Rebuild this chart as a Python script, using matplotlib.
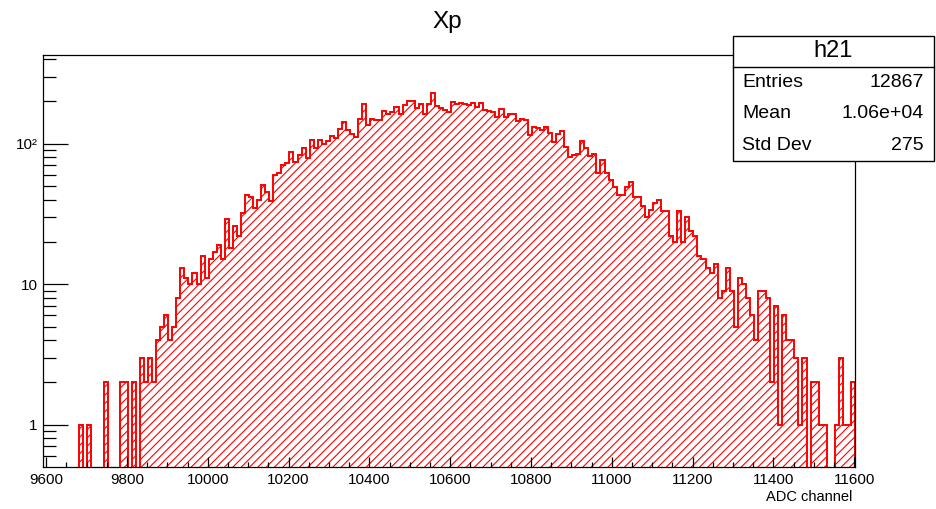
import numpy as np
import matplotlib
matplotlib.use("Agg")
import matplotlib.pyplot as plt
from matplotlib.patches import Rectangle
from matplotlib.lines import Line2D

plt.rcParams["font.family"] = ["Liberation Sans", "DejaVu Sans"]
plt.rcParams["hatch.color"] = "red"
plt.rcParams["hatch.linewidth"] = 0.8

# histogram h21 : 201 bins of 10 ADC channels starting at 9592
bin_lo = 9592
bin_width = 10
counts = [
    0, 0, 0, 0, 0, 0, 0, 0, 0, 1,
    0, 1, 0, 0, 0, 2, 0, 0, 0, 2,
    2, 0, 2, 0, 3, 2, 3, 2, 4, 5,
    6, 4, 5, 8, 13, 11, 10, 12, 10, 16,
    11, 15, 17, 19, 15, 29, 18, 26, 22, 32,
    43, 42, 35, 40, 51, 45, 39, 60, 62, 70,
    73, 88, 74, 83, 93, 79, 106, 93, 107, 100,
    105, 113, 110, 128, 143, 126, 117, 112, 149, 191,
    136, 151, 147, 147, 171, 164, 169, 183, 164, 188,
    202, 202, 181, 191, 164, 191, 228, 185, 181, 173,
    169, 199, 191, 195, 193, 190, 195, 183, 195, 175,
    171, 168, 155, 178, 155, 164, 164, 145, 151, 148,
    115, 132, 130, 125, 132, 120, 103, 118, 124, 95,
    80, 83, 84, 105, 93, 82, 84, 62, 77, 62,
    55, 49, 43, 43, 49, 53, 42, 42, 36, 30,
    34, 38, 40, 33, 33, 22, 20, 33, 20, 30,
    24, 22, 16, 15, 13, 12, 14, 8, 9, 13,
    9, 5, 11, 10, 8, 6, 4, 9, 9, 8,
    2, 7, 1, 6, 4, 4, 3, 1, 3, 0,
    2, 2, 1, 1, 0, 0, 1, 3, 1, 1,
    2,
]

stat_names = ["Entries", "Mean", "Std Dev"]
stat_values = ["12867", "1.06e+04", "275"]

W, H = 936, 509
def fx(x):
    return x / W
def fy(y):
    return 1 - y / H

counts = np.array(counts, dtype=float)
edges = bin_lo + bin_width * np.arange(len(counts) + 1)
shown = np.where(counts > 0, counts, 0.05)

fig = plt.figure(figsize=(W / 100, H / 100), dpi=100)
ax = fig.add_axes([fx(43), fy(467), (855 - 43) / W, (467 - 55) / H])

ax.stairs(shown, edges, baseline=0.05, fill=True, facecolor="none",
          edgecolor="red", hatch="////", linewidth=0)
ax.stairs(shown, edges, baseline=0.05, fill=False, color="red", linewidth=1.4)

ax.set_yscale("log")
ax.set_xlim(edges[0], edges[-1])
ax.set_ylim(0.5, 428)

ax.set_xticks(np.arange(9600, 11601, 200))
ax.set_xticks(np.arange(9600, 11601, 50), minor=True)
ax.set_yticks([1, 10, 100])
ax.set_yticklabels(["1", "10", "10\u00b2"])
ymin = [0.6, 0.7, 0.8, 0.9] + list(range(2, 10)) + list(range(20, 100, 10)) + [200, 300, 400]
ax.set_yticks(ymin, minor=True)
ax.yaxis.set_minor_formatter(plt.NullFormatter())

ax.tick_params(axis="both", which="both", direction="in", labelsize=11, width=0.9)
ax.tick_params(axis="x", which="major", length=7.5, pad=4)
ax.tick_params(axis="x", which="minor", length=3.8)
ax.tick_params(axis="y", which="major", length=18, pad=4)
ax.tick_params(axis="y", which="minor", length=9)
for s in ax.spines.values():
    s.set_linewidth(0.9)

fig.text(fx(852), fy(497), "ADC channel", ha="right", va="center", fontsize=10.5)
fig.text(fx(447), fy(22), "Xp", ha="center", va="center", fontsize=17.5)

# stats box
bx0, bx1, by0, by1 = 733, 934, 35.5, 161
fig.add_artist(Rectangle((fx(bx0), fy(by1)), fx(bx1) - fx(bx0), fy(by0) - fy(by1),
                         transform=fig.transFigure, facecolor="white",
                         edgecolor="black", linewidth=1.0, zorder=5))
row_h = (by1 - by0) / 4
fig.add_artist(Line2D([fx(bx0), fx(bx1)], [fy(by0 + row_h)] * 2,
                      transform=fig.transFigure, color="black", linewidth=1.0, zorder=6))
fig.text(fx((bx0 + bx1) / 2), fy(by0 + row_h / 2), "h21", ha="center", va="center",
         fontsize=17, zorder=7)
for i, (name, val) in enumerate(zip(stat_names, stat_values)):
    yc = by0 + row_h * (i + 1.5)
    fig.text(fx(742), fy(yc), name, ha="left", va="center", fontsize=14, zorder=7)
    fig.text(fx(924), fy(yc), val, ha="right", va="center", fontsize=14, zorder=7)

fig.savefig("out.png", dpi=100)
